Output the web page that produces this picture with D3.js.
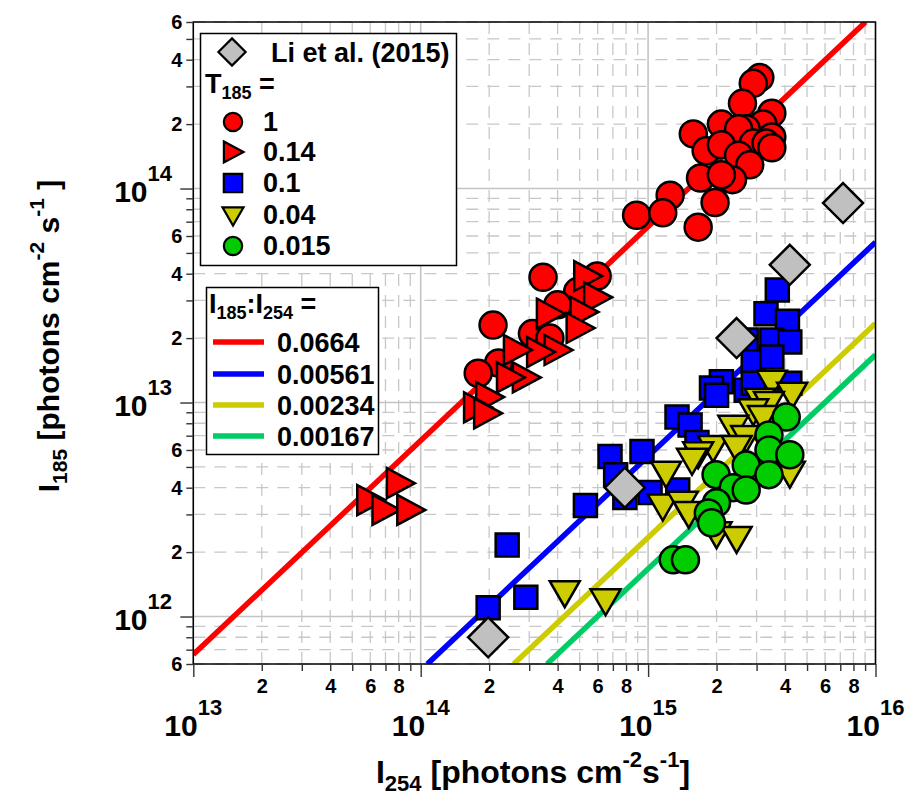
<!DOCTYPE html>
<html>
<head>
<title>I185 vs I254</title>
<script src="https://d3js.org/d3.v7.min.js"></script>
<style>
  body { margin: 0; background: #fff; }
  text { font-family: "Liberation Sans", Arial, sans-serif; font-weight: bold; }
</style>
</head>
<body>
<svg width="914" height="810" id="mainsvg"></svg>
<script>
// measured pairs [I254, I185], photons cm-2 s-1
const t1 = [
  [3.1e15,3.3e14],[2.9e15,3.1e14],[2.6e15,2.5e14],[3.5e15,2.25e14],[2.1e15,2.0e14],
  [1.58e15,1.8e14],[3.2e15,2.0e14],[2.7e15,1.9e14],[3.5e15,1.74e14],[2.5e15,1.9e14],
  [2.9e15,1.63e14],[3.3e15,1.63e14],[3.5e15,1.55e14],[1.8e15,1.5e14],[2.1e15,1.6e14],
  [2.5e15,1.43e14],[2.8e15,1.29e14],[1.7e15,1.12e14],[2.35e15,1.1e14],[2.1e15,1.16e14],
  [1.25e15,9.3e13],[1.97e15,8.6e13],[8.9e14,7.5e13],[1.16e15,7.7e13],[1.66e15,6.6e13],
  [3.45e14,3.85e13],[5.97e14,3.9e13],[4.9e14,3.3e13],[4.0e14,2.86e13],[2.08e14,2.3e13],
  [3.1e14,2.1e13],[3.7e14,2.0e13],[2.2e14,1.53e13],[1.79e14,1.37e13]
];
const t014 = [
  [5.4e14,3.9e13],[5.97e14,3.1e13],[5.2e14,2.65e13],[5.0e14,2.23e13],[3.7e14,2.6e13],
  [4.0e14,1.76e13],[3.35e14,1.72e13],[2.65e14,1.76e13],[2.9e14,1.31e13],[2.47e14,1.31e13],
  [2.0e14,1.06e13],[1.77e14,9.5e12],[1.96e14,8.9e12],
  [6.0e13,3.5e12],[8.1e13,4.2e12],[7.0e13,3.15e12],[9.0e13,3.15e12]
];
const t01 = [
  [3.7e15,3.36e13],[3.3e15,2.6e13],[4.1e15,2.4e13],[3.5e15,1.96e13],[4.2e15,1.92e13],
  [2.7e15,1.96e13],[2.9e15,1.55e13],[3.5e15,1.63e13],[2.1e15,1.25e13],[1.9e15,1.17e13],
  [2.0e15,1.08e13],[2.7e15,1.14e13],[2.9e15,1.23e13],[4.2e15,1.23e13],[1.34e15,8.55e12],
  [1.53e15,7.85e12],[1.64e15,6.5e12],[6.8e14,5.6e12],[9.4e14,5.9e12],[7.2e14,4.6e12],
  [1.02e15,3.8e12],[1.35e15,3.9e12],[7.9e14,3.6e12],[5.3e14,3.3e12],[2.4e14,2.16e12],
  [1.98e14,1.1e12],[2.9e14,1.23e12]
];
const t004 = [
  [3.5e15,1.25e13],[4.3e15,1.1e13],[3.1e15,1.03e13],[3.4e15,9.95e12],[2.9e15,9.2e12],
  [3.2e15,8.55e12],[2.37e15,7.7e12],[2.7e15,6.9e12],[1.93e15,6.2e12],[1.66e15,5.8e12],
  [1.56e15,5.4e12],[1.2e15,4.7e12],[4.2e15,4.7e12],[2.45e15,6.2e12],[3.2e15,4.8e12],
  [1.16e15,3.3e12],[1.42e15,3.4e12],[1.51e15,3.05e12],[2.0e15,2.45e12],[2.45e15,2.33e12],
  [4.3e14,1.3e12],[6.5e14,1.19e12]
];
const t0015 = [
  [4.05e15,8.55e12],[3.4e15,7.05e12],[3.4e15,6.0e12],[4.2e15,5.7e12],[2.7e15,5.1e12],
  [3.4e15,4.6e12],[1.99e15,4.6e12],[2.37e15,4.0e12],[2.7e15,3.9e12],[2.0e15,3.4e12],
  [1.84e15,3.05e12],[1.9e15,2.74e12],[1.29e15,1.84e12],[1.46e15,1.84e12]
];
const li2015 = [[7.2e15,8.55e13],[4.2e15,4.4e13],[2.45e15,2.0e13],[7.9e14,4.0e12],[1.98e14,8.0e11]];

const seriesLabels = ['1', '0.14', '0.1', '0.04', '0.015'];
const ratios = [0.0664, 0.00561, 0.00234, 0.00167];
const ratioLabels = ['0.0664', '0.00561', '0.00234', '0.00167'];
const ratioColors = ['#ff0000', '#0000ff', '#cccc00', '#00cc66'];

const xDecades = [13, 14, 15, 16];
const yDecades = [12, 13, 14];
const xLabelMults = [2, 4, 6, 8];
const yLabelMults = [2, 4, 6];

let svg = d3.select('#mainsvg');
const L = 193.3, R = 875.5, T = 22, B = 664;

let x = d3.scaleLog().domain([1e13, 1e16]).range([L, R]);
let y = d3.scaleLog().domain([6e11, 6e14]).range([B, T]);

// all 1..9 ticks inside the domain
function logTicks(lo, hi) {
  let out = [];
  for (let e = 11; e <= 16; e++)
    for (let m = 1; m <= 9; m++) {
      let v = m * Math.pow(10, e);
      if (v >= lo * 0.999 && v <= hi * 1.001) out.push(v);
    }
  return out;
}
const mant = v => Math.round(v / Math.pow(10, Math.floor(Math.log10(v) + 1e-9)));
let xt = logTicks(1e13, 1e16), yt = logTicks(6e11, 6e14);
let xMinor = xt.filter(v => mant(v) != 1), xMajor = xt.filter(v => mant(v) == 1);
let yMinor = yt.filter(v => mant(v) != 1), yMajor = yt.filter(v => mant(v) == 1);

// grid
let grid = svg.append('g');
grid.selectAll('.vx').data(xMinor).enter().append('line')
  .attr('x1', d => x(d)).attr('x2', d => x(d)).attr('y1', T).attr('y2', B)
  .attr('stroke', '#c8c8c8').attr('stroke-width', 1.3).attr('stroke-dasharray', '12,9');
grid.selectAll('.hy').data(yMinor).enter().append('line')
  .attr('y1', d => y(d)).attr('y2', d => y(d)).attr('x1', L).attr('x2', R)
  .attr('stroke', '#c8c8c8').attr('stroke-width', 1.3).attr('stroke-dasharray', '12,9');
grid.selectAll('.vX').data(xMajor).enter().append('line')
  .attr('x1', d => x(d)).attr('x2', d => x(d)).attr('y1', T).attr('y2', B)
  .attr('stroke', '#c4c4c4').attr('stroke-width', 1.6);
grid.selectAll('.hY').data(yMajor).enter().append('line')
  .attr('y1', d => y(d)).attr('y2', d => y(d)).attr('x1', L).attr('x2', R)
  .attr('stroke', '#c4c4c4').attr('stroke-width', 1.6);

// ratio lines, clipped to the frame
svg.append('clipPath').attr('id', 'clip').append('rect')
  .attr('x', L).attr('y', T).attr('width', R - L).attr('height', B - T);
let lineGen = d3.line().x(d => x(d[0])).y(d => y(d[1]));
svg.append('g').attr('clip-path', 'url(#clip)')
  .selectAll('path').data(ratios).enter().append('path')
  .attr('d', r => {
    let x0 = Math.max(1e13, 6e11 / r), x1 = Math.min(1e16, 6e14 / r);
    return lineGen([[x0, x0 * r], [x1, x1 * r]]);
  })
  .attr('stroke', (d, i) => ratioColors[i]).attr('stroke-width', 5.5).attr('fill', 'none');

// marker shapes
const shapes = {
  circle: k => d3.symbol(d3.symbolCircle, Math.PI * Math.pow(13.5 * k, 2))(),
  square: k => `M${-11.5*k},${-11.5*k}h${23*k}v${23*k}h${-23*k}Z`,
  right: k => `M${-13*k},${-15*k}L${15*k},0L${-13*k},${15*k}Z`,
  down: k => `M${-15*k},${-11*k}L${15*k},${-11*k}L0,${15*k}Z`,
  diamond: k => `M0,${-20*k}L${20*k},0L0,${20*k}L${-20*k},0Z`
};
const seriesDefs = [
  {data: t1, shape: 'circle', fill: '#ff0000'},
  {data: t014, shape: 'right', fill: '#ff0000'},
  {data: t01, shape: 'square', fill: '#0000ff'},
  {data: t004, shape: 'down', fill: '#cccc00'},
  {data: t0015, shape: 'circle', fill: '#00cc00'}
];

let marks = svg.append('g');
seriesDefs.forEach(s => {
  marks.append('g').selectAll('path').data(s.data).enter().append('path')
    .attr('d', shapes[s.shape](1))
    .attr('transform', d => `translate(${x(d[0])},${y(d[1])})`)
    .attr('fill', s.fill).attr('stroke', '#000').attr('stroke-width', 2.5);
});
marks.append('g').selectAll('path').data(li2015).enter().append('path')
  .attr('d', shapes.diamond(1))
  .attr('transform', d => `translate(${x(d[0])},${y(d[1])})`)
  .attr('fill', '#c0c0c0').attr('stroke', '#000').attr('stroke-width', 2.5);

// frame
svg.append('rect').attr('x', L).attr('y', T).attr('width', R - L).attr('height', B - T)
  .attr('fill', 'none').attr('stroke', '#000').attr('stroke-width', 1.5);

// axes
function styleAxis(g) {
  g.select('.domain').remove();
  g.selectAll('.tick line').attr('stroke', '#333').attr('stroke-width', 1.4);
  g.selectAll('.tick text').attr('font-size', 20).attr('fill', '#000')
    .attr('font-family', '"Liberation Sans", Arial, sans-serif').attr('font-weight', 'bold');
}
let xFmt = v => xLabelMults.includes(mant(v)) ? mant(v) : '';
let yFmt = v => yLabelMults.includes(mant(v)) ? mant(v) : '';
svg.append('g').attr('transform', `translate(0,${B})`)
  .call(d3.axisBottom(x).tickValues(xMinor).tickSize(7).tickPadding(8).tickFormat(xFmt)).call(styleAxis);
svg.append('g').attr('transform', `translate(0,${B})`)
  .call(d3.axisBottom(x).tickValues(xMajor).tickSize(13).tickFormat('')).call(styleAxis);
svg.append('g').attr('transform', `translate(${L},0)`)
  .call(d3.axisLeft(y).tickValues(yMinor).tickSize(7).tickPadding(4).tickFormat(yFmt)).call(styleAxis);
svg.append('g').attr('transform', `translate(${L},0)`)
  .call(d3.axisLeft(y).tickValues(yMajor).tickSize(13).tickFormat('')).call(styleAxis);

// decade labels
let xd = svg.append('g').selectAll('text').data(xDecades).enter().append('text')
  .attr('x', d => x(Math.pow(10, d))).attr('y', 736).attr('text-anchor', 'middle').attr('font-size', 30);
xd.append('tspan').text('10');
xd.append('tspan').attr('dy', -21).attr('font-size', 22).text(d => d);

let yd = svg.append('g').selectAll('text').data(yDecades).enter().append('text')
  .attr('x', 172).attr('y', d => y(Math.pow(10, d)) + 13).attr('text-anchor', 'end').attr('font-size', 30);
yd.append('tspan').text('10');
yd.append('tspan').attr('dy', -21).attr('font-size', 22).text(d => d);

// axis titles
let xt1 = svg.append('text').attr('x', 533).attr('y', 783).attr('text-anchor', 'middle').attr('font-size', 32);
xt1.append('tspan').text('I');
xt1.append('tspan').attr('font-size', 22).attr('dy', 8).text('254');
xt1.append('tspan').attr('dy', -8).text(' [photons cm');
xt1.append('tspan').attr('font-size', 22).attr('dy', -16).text('-2');
xt1.append('tspan').attr('dy', 16).text('s');
xt1.append('tspan').attr('font-size', 22).attr('dy', -16).text('-1');
xt1.append('tspan').attr('dy', 16).text(']');

let yt1 = svg.append('text').attr('transform', 'translate(59,336) rotate(-90)')
  .attr('text-anchor', 'middle').attr('font-size', 30);
yt1.append('tspan').text('I');
yt1.append('tspan').attr('font-size', 21).attr('dy', 8).text('185');
yt1.append('tspan').attr('dy', -8).text(' [photons cm');
yt1.append('tspan').attr('font-size', 21).attr('dy', -15).text('-2');
yt1.append('tspan').attr('dy', 15).text(' s');
yt1.append('tspan').attr('font-size', 21).attr('dy', -15).text('-1');
yt1.append('tspan').attr('dy', 15).text(' ]');

// legend: markers
let lg1 = svg.append('g');
lg1.append('rect').attr('x', 200.5).attr('y', 33.5).attr('width', 256).attr('height', 232)
  .attr('fill', '#fff').attr('stroke', '#000').attr('stroke-width', 1.5);
lg1.append('path').attr('d', shapes.diamond(0.68)).attr('transform', 'translate(232,52)')
  .attr('fill', '#c0c0c0').attr('stroke', '#000').attr('stroke-width', 2.2);
lg1.append('text').attr('x', 271).attr('y', 62).attr('font-size', 27).text('Li et al. (2015)');
let tt = lg1.append('text').attr('x', 205).attr('y', 93).attr('font-size', 27);
tt.append('tspan').text('T');
tt.append('tspan').attr('font-size', 18).attr('dy', 6).text('185');
tt.append('tspan').attr('dy', -6).text(' =');
const legendY = [122, 152, 183, 215, 246];
const legendK = {circle: 0.68, right: 0.7, square: 0.8, down: 0.7};
seriesDefs.forEach((s, i) => {
  lg1.append('path').attr('d', shapes[s.shape](legendK[s.shape]))
    .attr('transform', `translate(233,${legendY[i]})`)
    .attr('fill', s.fill).attr('stroke', '#000').attr('stroke-width', 2.2);
  lg1.append('text').attr('x', 263).attr('y', legendY[i] + 9).attr('font-size', 27).text(seriesLabels[i]);
});

// legend: ratio lines
let lg2 = svg.append('g');
lg2.append('rect').attr('x', 206.5).attr('y', 287.5).attr('width', 172).attr('height', 167)
  .attr('fill', '#fff').attr('stroke', '#000').attr('stroke-width', 1.5);
let rt = lg2.append('text').attr('x', 209).attr('y', 313).attr('font-size', 27);
rt.append('tspan').text('I');
rt.append('tspan').attr('font-size', 18).attr('dy', 6).text('185');
rt.append('tspan').attr('dy', -6).text(':I');
rt.append('tspan').attr('font-size', 18).attr('dy', 6).text('254');
rt.append('tspan').attr('dy', -6).text(' =');
const ratioY = [342, 374, 405, 436];
ratios.forEach((r, i) => {
  lg2.append('line').attr('x1', 213).attr('x2', 264).attr('y1', ratioY[i]).attr('y2', ratioY[i])
    .attr('stroke', ratioColors[i]).attr('stroke-width', 5.5);
  lg2.append('text').attr('x', 277).attr('y', ratioY[i] + 10).attr('font-size', 27).text(ratioLabels[i]);
});
</script>
</body>
</html>
